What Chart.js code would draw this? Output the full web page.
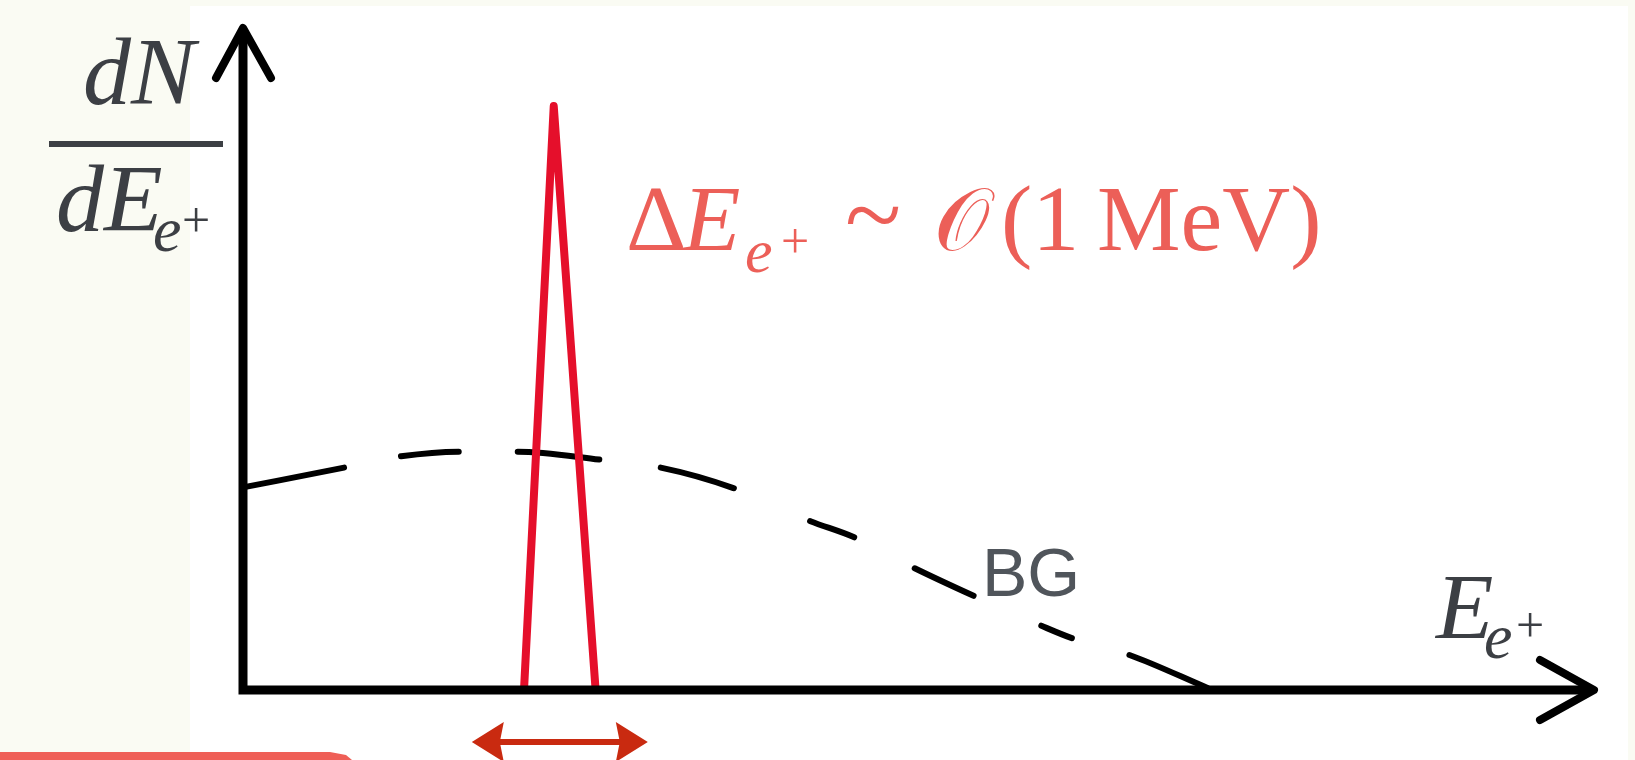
<!DOCTYPE html>
<html>
<head>
<meta charset="utf-8">
<script src="https://cdn.jsdelivr.net/npm/chart.js@4.4.0/dist/chart.umd.min.js"></script>
<style>
  html, body { margin: 0; padding: 0; background: #fafbf3; }
  canvas { display: block; }
</style>
</head>
<body>
<canvas id="c" width="1635" height="760"></canvas>
<script>
// positron energy (arbitrary units, 0..100) vs dN/dE (arbitrary units, 0..100)
const peakE = [20.8, 23.0, 26.1];
const peakN = [0, 88.2, 0];

const bgE = [0, 7.5, 11.7, 16.0, 20.3, 26.4, 30.9, 36.3, 42.0, 45.2, 49.7, 54.1, 59.1, 61.4, 65.6, 71.4];
const bgN = [30.6, 33.6, 35.3, 36.0, 36.0, 34.8, 33.6, 30.5, 25.5, 23.1, 18.4, 14.2, 9.7, 7.8, 5.3, 0.3];

const axisMax = 100;

// uneven, hand drawn dashes of the background curve
const bgDash = [103, 58, 58, 59, 82, 62, 76, 83, 47, 68, 65, 74, 33, 60, 86, 400];

const ink = '#3c3f44';
const salmon = '#ec5f58';
const serifI = sz => `italic ${sz}px "Liberation Serif", "DejaVu Serif", serif`;
const serif = sz => `${sz}px "Liberation Serif", "DejaVu Serif", serif`;

function put(ctx, txt, x, y, font, color, align){
  ctx.font = font;
  ctx.fillStyle = color;
  ctx.textAlign = align || 'left';
  ctx.textBaseline = 'alphabetic';
  ctx.fillText(txt, x, y);
}

const sketch = {
  id: 'sketch',
  beforeDraw(chart){
    const {ctx} = chart;
    ctx.save();
    ctx.fillStyle = '#fafbf3';
    ctx.fillRect(0, 0, chart.width, chart.height);
    ctx.fillStyle = '#ffffff';
    ctx.fillRect(190, 6, 1438, chart.height - 6);
    ctx.restore();
  },
  afterDatasetsDraw(chart){
    const {ctx, chartArea: a} = chart;
    const xs = chart.scales.x;
    ctx.save();

    // axes with open arrow heads
    ctx.strokeStyle = '#000';
    ctx.lineWidth = 9;
    ctx.lineJoin = 'miter';
    ctx.lineCap = 'butt';
    ctx.beginPath();
    ctx.moveTo(a.left, a.top + 2);
    ctx.lineTo(a.left, a.bottom);
    ctx.lineTo(a.right - 2, a.bottom);
    ctx.stroke();
    ctx.lineWidth = 8;
    ctx.lineJoin = 'round';
    ctx.lineCap = 'round';
    ctx.beginPath();
    ctx.moveTo(a.left - 27, a.top + 50);
    ctx.lineTo(a.left, a.top);
    ctx.lineTo(a.left + 28, a.top + 50);
    ctx.stroke();
    ctx.beginPath();
    ctx.moveTo(a.right - 54, a.bottom - 30);
    ctx.lineTo(a.right, a.bottom);
    ctx.lineTo(a.right - 54, a.bottom + 30);
    ctx.stroke();

    // y label dN / dE_e+
    put(ctx, 'dN', 139, 104, serifI(96), ink, 'center');
    ctx.fillStyle = ink;
    ctx.fillRect(49, 141, 174, 6);
    put(ctx, 'dE', 56, 231, serifI(96), ink);
    put(ctx, 'e', 153, 251, serifI(64), ink);
    put(ctx, '+', 182, 237, serif(50), ink);

    // x label E_e+
    put(ctx, 'E', 1436, 638, serifI(94), ink);
    put(ctx, 'e', 1484, 658, serifI(64), ink);
    put(ctx, '+', 1516, 642, serif(50), ink);

    // BG label
    put(ctx, 'BG', 982, 596, '68px "Liberation Sans", Arial, sans-serif', '#50555b');

    // resolution note
    put(ctx, 'Δ', 626, 250, serif(94), salmon);
    put(ctx, 'E', 683, 250, serifI(94), salmon);
    put(ctx, 'e', 745, 272, serifI(62), salmon);
    put(ctx, '+', 781, 258, serif(50), salmon);
    put(ctx, '~', 845, 250, serif(104), salmon);
    put(ctx, '𝒪', 934, 250, serif(88), salmon);
    put(ctx, '(1', 1001, 250, serif(94), salmon);
    put(ctx, 'MeV)', 1097, 250, serif(94), salmon);

    // width arrow under the peak
    const cx = (xs.getPixelForValue(peakE[0]) + xs.getPixelForValue(peakE[2])) / 2;
    const half = 88, y0 = 742;
    ctx.strokeStyle = '#c92a10';
    ctx.fillStyle = '#c92a10';
    ctx.lineWidth = 6;
    ctx.lineCap = 'butt';
    ctx.beginPath();
    ctx.moveTo(cx - half + 25, y0);
    ctx.lineTo(cx + half - 25, y0);
    ctx.stroke();
    ctx.beginPath();
    ctx.moveTo(cx - half, y0);
    ctx.lineTo(cx - half + 32, y0 - 20);
    ctx.lineTo(cx - half + 28, y0);
    ctx.lineTo(cx - half + 32, y0 + 20);
    ctx.closePath();
    ctx.fill();
    ctx.beginPath();
    ctx.moveTo(cx + half, y0);
    ctx.lineTo(cx + half - 32, y0 - 20);
    ctx.lineTo(cx + half - 28, y0);
    ctx.lineTo(cx + half - 32, y0 + 20);
    ctx.closePath();
    ctx.fill();

    // brush stroke at bottom left
    ctx.fillStyle = '#ef5f57';
    ctx.beginPath();
    ctx.moveTo(0, 752);
    ctx.lineTo(330, 752);
    ctx.lineTo(346, 755);
    ctx.lineTo(352, 760);
    ctx.lineTo(0, 760);
    ctx.closePath();
    ctx.fill();

    ctx.restore();
  }
};

new Chart(document.getElementById('c'), {
  type: 'line',
  data: {
    datasets: [
      {
        label: 'signal',
        data: peakE.map((e, i) => ({x: e, y: peakN[i]})),
        borderColor: '#e50f2b',
        borderWidth: 8,
        borderJoinStyle: 'round',
        borderCapStyle: 'round',
        tension: 0,
        pointRadius: 0,
        clip: false
      },
      {
        label: 'BG',
        data: bgE.map((e, i) => ({x: e, y: bgN[i]})),
        borderColor: '#000',
        borderWidth: 6,
        borderDash: bgDash,
        borderCapStyle: 'round',
        cubicInterpolationMode: 'monotone',
        pointRadius: 0,
        clip: false
      }
    ]
  },
  options: {
    responsive: false,
    animation: false,
    devicePixelRatio: 1,
    layout: { padding: { left: 243, top: 28, right: 41, bottom: 70 } },
    scales: {
      x: { type: 'linear', min: 0, max: axisMax, display: false },
      y: { min: 0, max: axisMax, display: false }
    },
    plugins: { legend: { display: false }, tooltip: { enabled: false } }
  },
  plugins: [sketch]
});
</script>
</body>
</html>
